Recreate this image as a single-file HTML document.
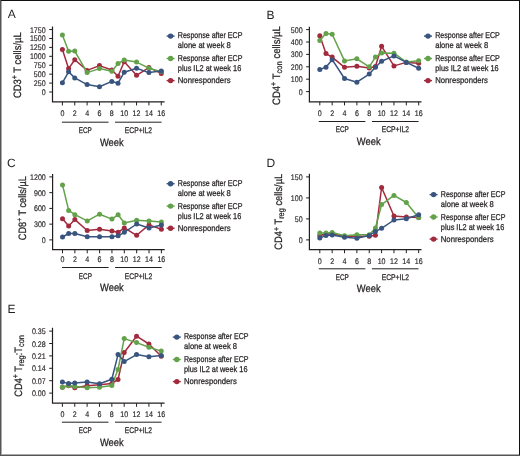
<!DOCTYPE html>
<html><head><meta charset="utf-8"><style>
html,body{margin:0;padding:0;background:#fff;}
body{width:520px;height:456px;overflow:hidden;position:relative;}
svg{position:absolute;left:0;top:0;will-change:transform;}
text{stroke:#231f20;stroke-width:0.25px;text-rendering:geometricPrecision;}
text.n{stroke-width:0.15px;}
text.L{stroke-width:0;}
</style></head><body>
<svg width="520" height="456" viewBox="0 0 520 456" font-family="Liberation Sans, sans-serif">
<rect x="0" y="0" width="520" height="456" fill="#fff"/>
<text x="7.7" y="18.3" class="L" font-size="12" fill="#231f20">A</text>
<path d="M52.5 26.6V101.85H164.6" fill="none" stroke="#231f20" stroke-width="1.2"/>
<path d="M49.2 92H52.5M49.2 83.08H52.5M49.2 74.16H52.5M49.2 65.24H52.5M49.2 56.32H52.5M49.2 47.4H52.5M49.2 38.48H52.5M49.2 29.56H52.5M62.4 101.85V105.45M74.76 101.85V105.45M87.12 101.85V105.45M99.48 101.85V105.45M111.84 101.85V105.45M124.2 101.85V105.45M136.56 101.85V105.45M148.92 101.85V105.45M161.28 101.85V105.45" stroke="#231f20" stroke-width="1"/>
<text x="45.7" y="95" class="n" font-size="8.1" textLength="3.95" lengthAdjust="spacingAndGlyphs" text-anchor="end" fill="#231f20">0</text>
<text x="45.7" y="86.08" class="n" font-size="8.1" textLength="11.85" lengthAdjust="spacingAndGlyphs" text-anchor="end" fill="#231f20">250</text>
<text x="45.7" y="77.16" class="n" font-size="8.1" textLength="11.85" lengthAdjust="spacingAndGlyphs" text-anchor="end" fill="#231f20">500</text>
<text x="45.7" y="68.24" class="n" font-size="8.1" textLength="11.85" lengthAdjust="spacingAndGlyphs" text-anchor="end" fill="#231f20">750</text>
<text x="45.7" y="59.32" class="n" font-size="8.1" textLength="15.79" lengthAdjust="spacingAndGlyphs" text-anchor="end" fill="#231f20">1000</text>
<text x="45.7" y="50.4" class="n" font-size="8.1" textLength="15.79" lengthAdjust="spacingAndGlyphs" text-anchor="end" fill="#231f20">1250</text>
<text x="45.7" y="41.48" class="n" font-size="8.1" textLength="15.79" lengthAdjust="spacingAndGlyphs" text-anchor="end" fill="#231f20">1500</text>
<text x="45.7" y="32.56" class="n" font-size="8.1" textLength="15.79" lengthAdjust="spacingAndGlyphs" text-anchor="end" fill="#231f20">1750</text>
<text x="62.4" y="116.2" class="n" font-size="8.1" textLength="3.95" lengthAdjust="spacingAndGlyphs" text-anchor="middle" fill="#231f20">0</text>
<text x="74.76" y="116.2" class="n" font-size="8.1" textLength="3.95" lengthAdjust="spacingAndGlyphs" text-anchor="middle" fill="#231f20">2</text>
<text x="87.12" y="116.2" class="n" font-size="8.1" textLength="3.95" lengthAdjust="spacingAndGlyphs" text-anchor="middle" fill="#231f20">4</text>
<text x="99.48" y="116.2" class="n" font-size="8.1" textLength="3.95" lengthAdjust="spacingAndGlyphs" text-anchor="middle" fill="#231f20">6</text>
<text x="111.84" y="116.2" class="n" font-size="8.1" textLength="3.95" lengthAdjust="spacingAndGlyphs" text-anchor="middle" fill="#231f20">8</text>
<text x="124.2" y="116.2" class="n" font-size="8.1" textLength="7.9" lengthAdjust="spacingAndGlyphs" text-anchor="middle" fill="#231f20">10</text>
<text x="136.56" y="116.2" class="n" font-size="8.1" textLength="7.9" lengthAdjust="spacingAndGlyphs" text-anchor="middle" fill="#231f20">12</text>
<text x="148.92" y="116.2" class="n" font-size="8.1" textLength="7.9" lengthAdjust="spacingAndGlyphs" text-anchor="middle" fill="#231f20">14</text>
<text x="161.28" y="116.2" class="n" font-size="8.1" textLength="7.9" lengthAdjust="spacingAndGlyphs" text-anchor="middle" fill="#231f20">16</text>
<path d="M61.9 122.2H108.5M115 122.2H161.6" stroke="#231f20" stroke-width="1"/>
<text x="85.3" y="132.8" font-size="8.2" text-anchor="middle" textLength="13.1" lengthAdjust="spacingAndGlyphs" fill="#231f20">ECP</text>
<text x="138.4" y="132.8" font-size="8.2" text-anchor="middle" textLength="27.3" lengthAdjust="spacingAndGlyphs" fill="#231f20">ECP+IL2</text>
<text x="111.8" y="145.7" font-size="10.7" text-anchor="middle" textLength="23.8" lengthAdjust="spacingAndGlyphs" fill="#231f20">Week</text>
<text transform="translate(21 98.1) rotate(-90)" x="0" y="0" font-size="10.7" textLength="65.8" lengthAdjust="spacingAndGlyphs" fill="#231f20"><tspan font-size="10.7" dy="0">CD3</tspan><tspan font-size="8" dy="-3.6">+</tspan><tspan font-size="10.7" dy="3.6"> T cells/µL</tspan></text>
<polyline points="62.4,49.5 68.58,68.6 74.76,59.8 87.12,70.4 99.48,65.6 111.84,70 118.02,76.3 124.2,61.8 136.56,75.3 148.92,67.6 161.28,73.4" fill="none" stroke="#a12a3d" stroke-width="1.5" stroke-linejoin="round"/>
<circle cx="62.4" cy="49.5" r="2.5" fill="#a12a3d"/><circle cx="68.58" cy="68.6" r="2.5" fill="#a12a3d"/><circle cx="74.76" cy="59.8" r="2.5" fill="#a12a3d"/><circle cx="87.12" cy="70.4" r="2.5" fill="#a12a3d"/><circle cx="99.48" cy="65.6" r="2.5" fill="#a12a3d"/><circle cx="111.84" cy="70" r="2.5" fill="#a12a3d"/><circle cx="118.02" cy="76.3" r="2.5" fill="#a12a3d"/><circle cx="124.2" cy="61.8" r="2.5" fill="#a12a3d"/><circle cx="136.56" cy="75.3" r="2.5" fill="#a12a3d"/><circle cx="148.92" cy="67.6" r="2.5" fill="#a12a3d"/><circle cx="161.28" cy="73.4" r="2.5" fill="#a12a3d"/>
<polyline points="62.4,35 68.58,51.2 74.76,51.1 87.12,72.6 99.48,68.6 111.84,71.2 118.02,63.6 124.2,60 136.56,62.1 148.92,68.2 161.28,71.6" fill="none" stroke="#63a24a" stroke-width="1.5" stroke-linejoin="round"/>
<circle cx="62.4" cy="35" r="2.5" fill="#63a24a"/><circle cx="68.58" cy="51.2" r="2.5" fill="#63a24a"/><circle cx="74.76" cy="51.1" r="2.5" fill="#63a24a"/><circle cx="87.12" cy="72.6" r="2.5" fill="#63a24a"/><circle cx="99.48" cy="68.6" r="2.5" fill="#63a24a"/><circle cx="111.84" cy="71.2" r="2.5" fill="#63a24a"/><circle cx="118.02" cy="63.6" r="2.5" fill="#63a24a"/><circle cx="124.2" cy="60" r="2.5" fill="#63a24a"/><circle cx="136.56" cy="62.1" r="2.5" fill="#63a24a"/><circle cx="148.92" cy="68.2" r="2.5" fill="#63a24a"/><circle cx="161.28" cy="71.6" r="2.5" fill="#63a24a"/>
<polyline points="62.4,82.8 68.58,71.8 74.76,77.9 87.12,84.6 99.48,86.7 111.84,81.4 118.02,83.2 124.2,72.3 136.56,68.2 148.92,72.6 161.28,70.9" fill="none" stroke="#38547f" stroke-width="1.5" stroke-linejoin="round"/>
<circle cx="62.4" cy="82.8" r="2.5" fill="#38547f"/><circle cx="68.58" cy="71.8" r="2.5" fill="#38547f"/><circle cx="74.76" cy="77.9" r="2.5" fill="#38547f"/><circle cx="87.12" cy="84.6" r="2.5" fill="#38547f"/><circle cx="99.48" cy="86.7" r="2.5" fill="#38547f"/><circle cx="111.84" cy="81.4" r="2.5" fill="#38547f"/><circle cx="118.02" cy="83.2" r="2.5" fill="#38547f"/><circle cx="124.2" cy="72.3" r="2.5" fill="#38547f"/><circle cx="136.56" cy="68.2" r="2.5" fill="#38547f"/><circle cx="148.92" cy="72.6" r="2.5" fill="#38547f"/><circle cx="161.28" cy="70.9" r="2.5" fill="#38547f"/>
<path d="M166.6 36.1H174.6" stroke="#38547f" stroke-width="1.4"/><circle cx="170.6" cy="36.1" r="2.7" fill="#38547f"/>
<text x="177.8" y="38.3" font-size="8.5" textLength="64.6" lengthAdjust="spacingAndGlyphs" fill="#231f20">Response after ECP</text>
<text x="177.8" y="48.2" font-size="8.5" textLength="53" lengthAdjust="spacingAndGlyphs" fill="#231f20">alone at week 8</text>
<path d="M166.6 58.5H174.6" stroke="#63a24a" stroke-width="1.4"/><circle cx="170.6" cy="58.5" r="2.7" fill="#63a24a"/>
<text x="177.8" y="61.3" font-size="8.5" textLength="64.6" lengthAdjust="spacingAndGlyphs" fill="#231f20">Response after ECP</text>
<text x="177.8" y="71" font-size="8.5" textLength="63.5" lengthAdjust="spacingAndGlyphs" fill="#231f20">plus IL2 at week 16</text>
<path d="M166.6 80.6H174.6" stroke="#a12a3d" stroke-width="1.4"/><circle cx="170.6" cy="80.6" r="2.7" fill="#a12a3d"/>
<text x="177.8" y="83.3" font-size="8.5" textLength="52.8" lengthAdjust="spacingAndGlyphs" fill="#231f20">Nonresponders</text>
<text x="266.4" y="18.7" class="L" font-size="12" fill="#231f20">B</text>
<path d="M309.4 26.7V101.8H421.5" fill="none" stroke="#231f20" stroke-width="1.2"/>
<path d="M306.1 91.6H309.4M306.1 79.2H309.4M306.1 66.8H309.4M306.1 54.4H309.4M306.1 42H309.4M306.1 29.6H309.4M319.8 101.8V105.4M332.16 101.8V105.4M344.52 101.8V105.4M356.88 101.8V105.4M369.24 101.8V105.4M381.6 101.8V105.4M393.96 101.8V105.4M406.32 101.8V105.4M418.68 101.8V105.4" stroke="#231f20" stroke-width="1"/>
<text x="302.6" y="94.6" class="n" font-size="8.1" textLength="3.95" lengthAdjust="spacingAndGlyphs" text-anchor="end" fill="#231f20">0</text>
<text x="302.6" y="82.2" class="n" font-size="8.1" textLength="11.85" lengthAdjust="spacingAndGlyphs" text-anchor="end" fill="#231f20">100</text>
<text x="302.6" y="69.8" class="n" font-size="8.1" textLength="11.85" lengthAdjust="spacingAndGlyphs" text-anchor="end" fill="#231f20">200</text>
<text x="302.6" y="57.4" class="n" font-size="8.1" textLength="11.85" lengthAdjust="spacingAndGlyphs" text-anchor="end" fill="#231f20">300</text>
<text x="302.6" y="45" class="n" font-size="8.1" textLength="11.85" lengthAdjust="spacingAndGlyphs" text-anchor="end" fill="#231f20">400</text>
<text x="302.6" y="32.6" class="n" font-size="8.1" textLength="11.85" lengthAdjust="spacingAndGlyphs" text-anchor="end" fill="#231f20">500</text>
<text x="319.8" y="115.7" class="n" font-size="8.1" textLength="3.95" lengthAdjust="spacingAndGlyphs" text-anchor="middle" fill="#231f20">0</text>
<text x="332.16" y="115.7" class="n" font-size="8.1" textLength="3.95" lengthAdjust="spacingAndGlyphs" text-anchor="middle" fill="#231f20">2</text>
<text x="344.52" y="115.7" class="n" font-size="8.1" textLength="3.95" lengthAdjust="spacingAndGlyphs" text-anchor="middle" fill="#231f20">4</text>
<text x="356.88" y="115.7" class="n" font-size="8.1" textLength="3.95" lengthAdjust="spacingAndGlyphs" text-anchor="middle" fill="#231f20">6</text>
<text x="369.24" y="115.7" class="n" font-size="8.1" textLength="3.95" lengthAdjust="spacingAndGlyphs" text-anchor="middle" fill="#231f20">8</text>
<text x="381.6" y="115.7" class="n" font-size="8.1" textLength="7.9" lengthAdjust="spacingAndGlyphs" text-anchor="middle" fill="#231f20">10</text>
<text x="393.96" y="115.7" class="n" font-size="8.1" textLength="7.9" lengthAdjust="spacingAndGlyphs" text-anchor="middle" fill="#231f20">12</text>
<text x="406.32" y="115.7" class="n" font-size="8.1" textLength="7.9" lengthAdjust="spacingAndGlyphs" text-anchor="middle" fill="#231f20">14</text>
<text x="418.68" y="115.7" class="n" font-size="8.1" textLength="7.9" lengthAdjust="spacingAndGlyphs" text-anchor="middle" fill="#231f20">16</text>
<path d="M318.8 121.5H365.4M371.9 121.5H418.5" stroke="#231f20" stroke-width="1"/>
<text x="342.2" y="132.1" font-size="8.2" text-anchor="middle" textLength="13.1" lengthAdjust="spacingAndGlyphs" fill="#231f20">ECP</text>
<text x="395.3" y="132.1" font-size="8.2" text-anchor="middle" textLength="27.3" lengthAdjust="spacingAndGlyphs" fill="#231f20">ECP+IL2</text>
<text x="368.7" y="144.6" font-size="10.7" text-anchor="middle" textLength="23.8" lengthAdjust="spacingAndGlyphs" fill="#231f20">Week</text>
<text transform="translate(279.8 104.9) rotate(-90)" x="0" y="0" font-size="10.7" textLength="78.7" lengthAdjust="spacingAndGlyphs" fill="#231f20"><tspan font-size="10.7" dy="0">CD4</tspan><tspan font-size="8" dy="-3.6">+</tspan><tspan font-size="10.7" dy="3.6"> T</tspan><tspan font-size="8.5" dy="2.2">con</tspan><tspan font-size="10.7" dy="-2.2"> cells/µL</tspan></text>
<polyline points="319.8,35.7 325.98,53.6 332.16,57.1 344.52,67.3 356.88,66.2 369.24,68 375.42,66.5 381.6,46.3 393.96,65.9 406.32,62.4 418.68,63.2" fill="none" stroke="#a12a3d" stroke-width="1.5" stroke-linejoin="round"/>
<circle cx="319.8" cy="35.7" r="2.5" fill="#a12a3d"/><circle cx="325.98" cy="53.6" r="2.5" fill="#a12a3d"/><circle cx="332.16" cy="57.1" r="2.5" fill="#a12a3d"/><circle cx="344.52" cy="67.3" r="2.5" fill="#a12a3d"/><circle cx="356.88" cy="66.2" r="2.5" fill="#a12a3d"/><circle cx="369.24" cy="68" r="2.5" fill="#a12a3d"/><circle cx="375.42" cy="66.5" r="2.5" fill="#a12a3d"/><circle cx="381.6" cy="46.3" r="2.5" fill="#a12a3d"/><circle cx="393.96" cy="65.9" r="2.5" fill="#a12a3d"/><circle cx="406.32" cy="62.4" r="2.5" fill="#a12a3d"/><circle cx="418.68" cy="63.2" r="2.5" fill="#a12a3d"/>
<polyline points="319.8,40.4 325.98,33.4 332.16,34.3 344.52,60.9 356.88,58.8 369.24,66.8 375.42,57.1 381.6,53.1 393.96,53.2 406.32,62 418.68,60.7" fill="none" stroke="#63a24a" stroke-width="1.5" stroke-linejoin="round"/>
<circle cx="319.8" cy="40.4" r="2.5" fill="#63a24a"/><circle cx="325.98" cy="33.4" r="2.5" fill="#63a24a"/><circle cx="332.16" cy="34.3" r="2.5" fill="#63a24a"/><circle cx="344.52" cy="60.9" r="2.5" fill="#63a24a"/><circle cx="356.88" cy="58.8" r="2.5" fill="#63a24a"/><circle cx="369.24" cy="66.8" r="2.5" fill="#63a24a"/><circle cx="375.42" cy="57.1" r="2.5" fill="#63a24a"/><circle cx="381.6" cy="53.1" r="2.5" fill="#63a24a"/><circle cx="393.96" cy="53.2" r="2.5" fill="#63a24a"/><circle cx="406.32" cy="62" r="2.5" fill="#63a24a"/><circle cx="418.68" cy="60.7" r="2.5" fill="#63a24a"/>
<polyline points="319.8,69.4 325.98,67.3 332.16,59.7 344.52,78.5 356.88,82.2 369.24,74.1 375.42,67.2 381.6,61.3 393.96,55.9 406.32,62.4 418.68,68.2" fill="none" stroke="#38547f" stroke-width="1.5" stroke-linejoin="round"/>
<circle cx="319.8" cy="69.4" r="2.5" fill="#38547f"/><circle cx="325.98" cy="67.3" r="2.5" fill="#38547f"/><circle cx="332.16" cy="59.7" r="2.5" fill="#38547f"/><circle cx="344.52" cy="78.5" r="2.5" fill="#38547f"/><circle cx="356.88" cy="82.2" r="2.5" fill="#38547f"/><circle cx="369.24" cy="74.1" r="2.5" fill="#38547f"/><circle cx="375.42" cy="67.2" r="2.5" fill="#38547f"/><circle cx="381.6" cy="61.3" r="2.5" fill="#38547f"/><circle cx="393.96" cy="55.9" r="2.5" fill="#38547f"/><circle cx="406.32" cy="62.4" r="2.5" fill="#38547f"/><circle cx="418.68" cy="68.2" r="2.5" fill="#38547f"/>
<path d="M424 36.1H432" stroke="#38547f" stroke-width="1.4"/><circle cx="428" cy="36.1" r="2.7" fill="#38547f"/>
<text x="435.2" y="38.3" font-size="8.5" textLength="64.6" lengthAdjust="spacingAndGlyphs" fill="#231f20">Response after ECP</text>
<text x="435.2" y="48.2" font-size="8.5" textLength="53" lengthAdjust="spacingAndGlyphs" fill="#231f20">alone at week 8</text>
<path d="M424 58.5H432" stroke="#63a24a" stroke-width="1.4"/><circle cx="428" cy="58.5" r="2.7" fill="#63a24a"/>
<text x="435.2" y="61.3" font-size="8.5" textLength="64.6" lengthAdjust="spacingAndGlyphs" fill="#231f20">Response after ECP</text>
<text x="435.2" y="71" font-size="8.5" textLength="63.5" lengthAdjust="spacingAndGlyphs" fill="#231f20">plus IL2 at week 16</text>
<path d="M424 80.6H432" stroke="#a12a3d" stroke-width="1.4"/><circle cx="428" cy="80.6" r="2.7" fill="#a12a3d"/>
<text x="435.2" y="83.3" font-size="8.5" textLength="52.8" lengthAdjust="spacingAndGlyphs" fill="#231f20">Nonresponders</text>
<text x="7.1" y="166.9" class="L" font-size="12" fill="#231f20">C</text>
<path d="M52.6 173.9V249.7H164.7" fill="none" stroke="#231f20" stroke-width="1.2"/>
<path d="M49.3 239.9H52.6M49.3 224.15H52.6M49.3 208.4H52.6M49.3 192.65H52.6M49.3 176.9H52.6M62.5 249.7V253.3M74.86 249.7V253.3M87.22 249.7V253.3M99.58 249.7V253.3M111.94 249.7V253.3M124.3 249.7V253.3M136.66 249.7V253.3M149.02 249.7V253.3M161.38 249.7V253.3" stroke="#231f20" stroke-width="1"/>
<text x="45.8" y="242.9" class="n" font-size="8.1" textLength="3.95" lengthAdjust="spacingAndGlyphs" text-anchor="end" fill="#231f20">0</text>
<text x="45.8" y="227.15" class="n" font-size="8.1" textLength="11.85" lengthAdjust="spacingAndGlyphs" text-anchor="end" fill="#231f20">300</text>
<text x="45.8" y="211.4" class="n" font-size="8.1" textLength="11.85" lengthAdjust="spacingAndGlyphs" text-anchor="end" fill="#231f20">600</text>
<text x="45.8" y="195.65" class="n" font-size="8.1" textLength="11.85" lengthAdjust="spacingAndGlyphs" text-anchor="end" fill="#231f20">900</text>
<text x="45.8" y="179.9" class="n" font-size="8.1" textLength="15.79" lengthAdjust="spacingAndGlyphs" text-anchor="end" fill="#231f20">1200</text>
<text x="62.5" y="262.3" class="n" font-size="8.1" textLength="3.95" lengthAdjust="spacingAndGlyphs" text-anchor="middle" fill="#231f20">0</text>
<text x="74.86" y="262.3" class="n" font-size="8.1" textLength="3.95" lengthAdjust="spacingAndGlyphs" text-anchor="middle" fill="#231f20">2</text>
<text x="87.22" y="262.3" class="n" font-size="8.1" textLength="3.95" lengthAdjust="spacingAndGlyphs" text-anchor="middle" fill="#231f20">4</text>
<text x="99.58" y="262.3" class="n" font-size="8.1" textLength="3.95" lengthAdjust="spacingAndGlyphs" text-anchor="middle" fill="#231f20">6</text>
<text x="111.94" y="262.3" class="n" font-size="8.1" textLength="3.95" lengthAdjust="spacingAndGlyphs" text-anchor="middle" fill="#231f20">8</text>
<text x="124.3" y="262.3" class="n" font-size="8.1" textLength="7.9" lengthAdjust="spacingAndGlyphs" text-anchor="middle" fill="#231f20">10</text>
<text x="136.66" y="262.3" class="n" font-size="8.1" textLength="7.9" lengthAdjust="spacingAndGlyphs" text-anchor="middle" fill="#231f20">12</text>
<text x="149.02" y="262.3" class="n" font-size="8.1" textLength="7.9" lengthAdjust="spacingAndGlyphs" text-anchor="middle" fill="#231f20">14</text>
<text x="161.38" y="262.3" class="n" font-size="8.1" textLength="7.9" lengthAdjust="spacingAndGlyphs" text-anchor="middle" fill="#231f20">16</text>
<path d="M62 267.5H108.6M115.1 267.5H161.7" stroke="#231f20" stroke-width="1"/>
<text x="85.4" y="278.8" font-size="8.2" text-anchor="middle" textLength="13.1" lengthAdjust="spacingAndGlyphs" fill="#231f20">ECP</text>
<text x="138.5" y="278.8" font-size="8.2" text-anchor="middle" textLength="27.3" lengthAdjust="spacingAndGlyphs" fill="#231f20">ECP+IL2</text>
<text x="111.9" y="290.8" font-size="10.7" text-anchor="middle" textLength="23.8" lengthAdjust="spacingAndGlyphs" fill="#231f20">Week</text>
<text transform="translate(26 240.2) rotate(-90)" x="0" y="0" font-size="10.7" textLength="64" lengthAdjust="spacingAndGlyphs" fill="#231f20"><tspan font-size="10.7" dy="0">CD8</tspan><tspan font-size="8" dy="-3.6">+</tspan><tspan font-size="10.7" dy="3.6"> T cells/µL</tspan></text>
<polyline points="62.5,218.8 68.68,226.1 74.86,219.6 87.22,230.5 99.58,229.3 111.94,231.1 118.12,232.3 124.3,227.9 136.66,235.3 149.02,224.9 161.38,229.3" fill="none" stroke="#a12a3d" stroke-width="1.5" stroke-linejoin="round"/>
<circle cx="62.5" cy="218.8" r="2.5" fill="#a12a3d"/><circle cx="68.68" cy="226.1" r="2.5" fill="#a12a3d"/><circle cx="74.86" cy="219.6" r="2.5" fill="#a12a3d"/><circle cx="87.22" cy="230.5" r="2.5" fill="#a12a3d"/><circle cx="99.58" cy="229.3" r="2.5" fill="#a12a3d"/><circle cx="111.94" cy="231.1" r="2.5" fill="#a12a3d"/><circle cx="118.12" cy="232.3" r="2.5" fill="#a12a3d"/><circle cx="124.3" cy="227.9" r="2.5" fill="#a12a3d"/><circle cx="136.66" cy="235.3" r="2.5" fill="#a12a3d"/><circle cx="149.02" cy="224.9" r="2.5" fill="#a12a3d"/><circle cx="161.38" cy="229.3" r="2.5" fill="#a12a3d"/>
<polyline points="62.5,184.9 68.68,210.4 74.86,214.7 87.22,220.9 99.58,214.2 111.94,219.1 118.12,214.7 124.3,223 136.66,220.3 149.02,221.1 161.38,222" fill="none" stroke="#63a24a" stroke-width="1.5" stroke-linejoin="round"/>
<circle cx="62.5" cy="184.9" r="2.5" fill="#63a24a"/><circle cx="68.68" cy="210.4" r="2.5" fill="#63a24a"/><circle cx="74.86" cy="214.7" r="2.5" fill="#63a24a"/><circle cx="87.22" cy="220.9" r="2.5" fill="#63a24a"/><circle cx="99.58" cy="214.2" r="2.5" fill="#63a24a"/><circle cx="111.94" cy="219.1" r="2.5" fill="#63a24a"/><circle cx="118.12" cy="214.7" r="2.5" fill="#63a24a"/><circle cx="124.3" cy="223" r="2.5" fill="#63a24a"/><circle cx="136.66" cy="220.3" r="2.5" fill="#63a24a"/><circle cx="149.02" cy="221.1" r="2.5" fill="#63a24a"/><circle cx="161.38" cy="222" r="2.5" fill="#63a24a"/>
<polyline points="62.5,237 68.68,233.5 74.86,233.5 87.22,236.7 99.58,236.7 111.94,236.7 118.12,235.8 124.3,232.3 136.66,224 149.02,228 161.38,225.1" fill="none" stroke="#38547f" stroke-width="1.5" stroke-linejoin="round"/>
<circle cx="62.5" cy="237" r="2.5" fill="#38547f"/><circle cx="68.68" cy="233.5" r="2.5" fill="#38547f"/><circle cx="74.86" cy="233.5" r="2.5" fill="#38547f"/><circle cx="87.22" cy="236.7" r="2.5" fill="#38547f"/><circle cx="99.58" cy="236.7" r="2.5" fill="#38547f"/><circle cx="111.94" cy="236.7" r="2.5" fill="#38547f"/><circle cx="118.12" cy="235.8" r="2.5" fill="#38547f"/><circle cx="124.3" cy="232.3" r="2.5" fill="#38547f"/><circle cx="136.66" cy="224" r="2.5" fill="#38547f"/><circle cx="149.02" cy="228" r="2.5" fill="#38547f"/><circle cx="161.38" cy="225.1" r="2.5" fill="#38547f"/>
<path d="M166.6 183.7H174.6" stroke="#38547f" stroke-width="1.4"/><circle cx="170.6" cy="183.7" r="2.7" fill="#38547f"/>
<text x="177.8" y="185.9" font-size="8.5" textLength="64.6" lengthAdjust="spacingAndGlyphs" fill="#231f20">Response after ECP</text>
<text x="177.8" y="195.8" font-size="8.5" textLength="53" lengthAdjust="spacingAndGlyphs" fill="#231f20">alone at week 8</text>
<path d="M166.6 206.1H174.6" stroke="#63a24a" stroke-width="1.4"/><circle cx="170.6" cy="206.1" r="2.7" fill="#63a24a"/>
<text x="177.8" y="208.9" font-size="8.5" textLength="64.6" lengthAdjust="spacingAndGlyphs" fill="#231f20">Response after ECP</text>
<text x="177.8" y="218.6" font-size="8.5" textLength="63.5" lengthAdjust="spacingAndGlyphs" fill="#231f20">plus IL2 at week 16</text>
<path d="M166.6 228.2H174.6" stroke="#a12a3d" stroke-width="1.4"/><circle cx="170.6" cy="228.2" r="2.7" fill="#a12a3d"/>
<text x="177.8" y="230.9" font-size="8.5" textLength="52.8" lengthAdjust="spacingAndGlyphs" fill="#231f20">Nonresponders</text>
<text x="266.4" y="166.6" class="L" font-size="12" fill="#231f20">D</text>
<path d="M309.4 173.7V249.6H421.5" fill="none" stroke="#231f20" stroke-width="1.2"/>
<path d="M306.1 239.9H309.4M306.1 218.9H309.4M306.1 197.9H309.4M306.1 176.9H309.4M319.8 249.6V253.2M332.16 249.6V253.2M344.52 249.6V253.2M356.88 249.6V253.2M369.24 249.6V253.2M381.6 249.6V253.2M393.96 249.6V253.2M406.32 249.6V253.2M418.68 249.6V253.2" stroke="#231f20" stroke-width="1"/>
<text x="302.6" y="242.9" class="n" font-size="8.1" textLength="3.95" lengthAdjust="spacingAndGlyphs" text-anchor="end" fill="#231f20">0</text>
<text x="302.6" y="221.9" class="n" font-size="8.1" textLength="7.9" lengthAdjust="spacingAndGlyphs" text-anchor="end" fill="#231f20">50</text>
<text x="302.6" y="200.9" class="n" font-size="8.1" textLength="11.85" lengthAdjust="spacingAndGlyphs" text-anchor="end" fill="#231f20">100</text>
<text x="302.6" y="179.9" class="n" font-size="8.1" textLength="11.85" lengthAdjust="spacingAndGlyphs" text-anchor="end" fill="#231f20">150</text>
<text x="319.8" y="264.2" class="n" font-size="8.1" textLength="3.95" lengthAdjust="spacingAndGlyphs" text-anchor="middle" fill="#231f20">0</text>
<text x="332.16" y="264.2" class="n" font-size="8.1" textLength="3.95" lengthAdjust="spacingAndGlyphs" text-anchor="middle" fill="#231f20">2</text>
<text x="344.52" y="264.2" class="n" font-size="8.1" textLength="3.95" lengthAdjust="spacingAndGlyphs" text-anchor="middle" fill="#231f20">4</text>
<text x="356.88" y="264.2" class="n" font-size="8.1" textLength="3.95" lengthAdjust="spacingAndGlyphs" text-anchor="middle" fill="#231f20">6</text>
<text x="369.24" y="264.2" class="n" font-size="8.1" textLength="3.95" lengthAdjust="spacingAndGlyphs" text-anchor="middle" fill="#231f20">8</text>
<text x="381.6" y="264.2" class="n" font-size="8.1" textLength="7.9" lengthAdjust="spacingAndGlyphs" text-anchor="middle" fill="#231f20">10</text>
<text x="393.96" y="264.2" class="n" font-size="8.1" textLength="7.9" lengthAdjust="spacingAndGlyphs" text-anchor="middle" fill="#231f20">12</text>
<text x="406.32" y="264.2" class="n" font-size="8.1" textLength="7.9" lengthAdjust="spacingAndGlyphs" text-anchor="middle" fill="#231f20">14</text>
<text x="418.68" y="264.2" class="n" font-size="8.1" textLength="7.9" lengthAdjust="spacingAndGlyphs" text-anchor="middle" fill="#231f20">16</text>
<path d="M318.8 268.8H365.4M371.9 268.8H418.5" stroke="#231f20" stroke-width="1"/>
<text x="342.2" y="279.9" font-size="8.2" text-anchor="middle" textLength="13.1" lengthAdjust="spacingAndGlyphs" fill="#231f20">ECP</text>
<text x="395.3" y="279.9" font-size="8.2" text-anchor="middle" textLength="27.3" lengthAdjust="spacingAndGlyphs" fill="#231f20">ECP+IL2</text>
<text x="368.7" y="291.8" font-size="10.7" text-anchor="middle" textLength="23.8" lengthAdjust="spacingAndGlyphs" fill="#231f20">Week</text>
<text transform="translate(282.1 249.7) rotate(-90)" x="0" y="0" font-size="10.7" textLength="75.9" lengthAdjust="spacingAndGlyphs" fill="#231f20"><tspan font-size="10.7" dy="0">CD4</tspan><tspan font-size="8" dy="-3.6">+</tspan><tspan font-size="10.7" dy="3.6"> T</tspan><tspan font-size="8.5" dy="2.2">reg</tspan><tspan font-size="10.7" dy="-2.2"> cells/µL</tspan></text>
<polyline points="319.8,235.4 325.98,234 332.16,233.7 344.52,236.2 356.88,236.2 369.24,236.3 375.42,235.3 381.6,187.5 393.96,216 406.32,217 418.68,217.4" fill="none" stroke="#a12a3d" stroke-width="1.5" stroke-linejoin="round"/>
<circle cx="319.8" cy="235.4" r="2.5" fill="#a12a3d"/><circle cx="325.98" cy="234" r="2.5" fill="#a12a3d"/><circle cx="332.16" cy="233.7" r="2.5" fill="#a12a3d"/><circle cx="344.52" cy="236.2" r="2.5" fill="#a12a3d"/><circle cx="356.88" cy="236.2" r="2.5" fill="#a12a3d"/><circle cx="369.24" cy="236.3" r="2.5" fill="#a12a3d"/><circle cx="375.42" cy="235.3" r="2.5" fill="#a12a3d"/><circle cx="381.6" cy="187.5" r="2.5" fill="#a12a3d"/><circle cx="393.96" cy="216" r="2.5" fill="#a12a3d"/><circle cx="406.32" cy="217" r="2.5" fill="#a12a3d"/><circle cx="418.68" cy="217.4" r="2.5" fill="#a12a3d"/>
<polyline points="319.8,232.9 325.98,232.9 332.16,232.5 344.52,235.7 356.88,234.7 369.24,234.8 375.42,227.9 381.6,204.6 393.96,195.4 406.32,202.5 418.68,217.7" fill="none" stroke="#63a24a" stroke-width="1.5" stroke-linejoin="round"/>
<circle cx="319.8" cy="232.9" r="2.5" fill="#63a24a"/><circle cx="325.98" cy="232.9" r="2.5" fill="#63a24a"/><circle cx="332.16" cy="232.5" r="2.5" fill="#63a24a"/><circle cx="344.52" cy="235.7" r="2.5" fill="#63a24a"/><circle cx="356.88" cy="234.7" r="2.5" fill="#63a24a"/><circle cx="369.24" cy="234.8" r="2.5" fill="#63a24a"/><circle cx="375.42" cy="227.9" r="2.5" fill="#63a24a"/><circle cx="381.6" cy="204.6" r="2.5" fill="#63a24a"/><circle cx="393.96" cy="195.4" r="2.5" fill="#63a24a"/><circle cx="406.32" cy="202.5" r="2.5" fill="#63a24a"/><circle cx="418.68" cy="217.7" r="2.5" fill="#63a24a"/>
<polyline points="319.8,238.1 325.98,235.4 332.16,235 344.52,237.3 356.88,238.3 369.24,235.5 375.42,231.4 381.6,228.3 393.96,220 406.32,218.8 418.68,214.7" fill="none" stroke="#38547f" stroke-width="1.5" stroke-linejoin="round"/>
<circle cx="319.8" cy="238.1" r="2.5" fill="#38547f"/><circle cx="325.98" cy="235.4" r="2.5" fill="#38547f"/><circle cx="332.16" cy="235" r="2.5" fill="#38547f"/><circle cx="344.52" cy="237.3" r="2.5" fill="#38547f"/><circle cx="356.88" cy="238.3" r="2.5" fill="#38547f"/><circle cx="369.24" cy="235.5" r="2.5" fill="#38547f"/><circle cx="375.42" cy="231.4" r="2.5" fill="#38547f"/><circle cx="381.6" cy="228.3" r="2.5" fill="#38547f"/><circle cx="393.96" cy="220" r="2.5" fill="#38547f"/><circle cx="406.32" cy="218.8" r="2.5" fill="#38547f"/><circle cx="418.68" cy="214.7" r="2.5" fill="#38547f"/>
<path d="M429.6 194.6H437.6" stroke="#38547f" stroke-width="1.4"/><circle cx="433.6" cy="194.6" r="2.7" fill="#38547f"/>
<text x="440.8" y="196.8" font-size="8.5" textLength="64.6" lengthAdjust="spacingAndGlyphs" fill="#231f20">Response after ECP</text>
<text x="440.8" y="206.7" font-size="8.5" textLength="53" lengthAdjust="spacingAndGlyphs" fill="#231f20">alone at week 8</text>
<path d="M429.6 217H437.6" stroke="#63a24a" stroke-width="1.4"/><circle cx="433.6" cy="217" r="2.7" fill="#63a24a"/>
<text x="440.8" y="219.8" font-size="8.5" textLength="64.6" lengthAdjust="spacingAndGlyphs" fill="#231f20">Response after ECP</text>
<text x="440.8" y="229.5" font-size="8.5" textLength="63.5" lengthAdjust="spacingAndGlyphs" fill="#231f20">plus IL2 at week 16</text>
<path d="M429.6 239.1H437.6" stroke="#a12a3d" stroke-width="1.4"/><circle cx="433.6" cy="239.1" r="2.7" fill="#a12a3d"/>
<text x="440.8" y="241.8" font-size="8.5" textLength="52.8" lengthAdjust="spacingAndGlyphs" fill="#231f20">Nonresponders</text>
<text x="7.5" y="313.4" class="L" font-size="12" fill="#231f20">E</text>
<path d="M52.5 327.7V403.2H164.6" fill="none" stroke="#231f20" stroke-width="1.2"/>
<path d="M49.2 393.1H52.5M49.2 380.7H52.5M49.2 368.3H52.5M49.2 355.9H52.5M49.2 343.5H52.5M49.2 331.1H52.5M62.4 403.2V406.8M74.76 403.2V406.8M87.12 403.2V406.8M99.48 403.2V406.8M111.84 403.2V406.8M124.2 403.2V406.8M136.56 403.2V406.8M148.92 403.2V406.8M161.28 403.2V406.8" stroke="#231f20" stroke-width="1"/>
<text x="45.7" y="396.1" class="n" font-size="8.1" textLength="13.82" lengthAdjust="spacingAndGlyphs" text-anchor="end" fill="#231f20">0.00</text>
<text x="45.7" y="383.7" class="n" font-size="8.1" textLength="13.82" lengthAdjust="spacingAndGlyphs" text-anchor="end" fill="#231f20">0.07</text>
<text x="45.7" y="371.3" class="n" font-size="8.1" textLength="13.82" lengthAdjust="spacingAndGlyphs" text-anchor="end" fill="#231f20">0.14</text>
<text x="45.7" y="358.9" class="n" font-size="8.1" textLength="13.82" lengthAdjust="spacingAndGlyphs" text-anchor="end" fill="#231f20">0.21</text>
<text x="45.7" y="346.5" class="n" font-size="8.1" textLength="13.82" lengthAdjust="spacingAndGlyphs" text-anchor="end" fill="#231f20">0.28</text>
<text x="45.7" y="334.1" class="n" font-size="8.1" textLength="13.82" lengthAdjust="spacingAndGlyphs" text-anchor="end" fill="#231f20">0.35</text>
<text x="62.4" y="416.9" class="n" font-size="8.1" textLength="3.95" lengthAdjust="spacingAndGlyphs" text-anchor="middle" fill="#231f20">0</text>
<text x="74.76" y="416.9" class="n" font-size="8.1" textLength="3.95" lengthAdjust="spacingAndGlyphs" text-anchor="middle" fill="#231f20">2</text>
<text x="87.12" y="416.9" class="n" font-size="8.1" textLength="3.95" lengthAdjust="spacingAndGlyphs" text-anchor="middle" fill="#231f20">4</text>
<text x="99.48" y="416.9" class="n" font-size="8.1" textLength="3.95" lengthAdjust="spacingAndGlyphs" text-anchor="middle" fill="#231f20">6</text>
<text x="111.84" y="416.9" class="n" font-size="8.1" textLength="3.95" lengthAdjust="spacingAndGlyphs" text-anchor="middle" fill="#231f20">8</text>
<text x="124.2" y="416.9" class="n" font-size="8.1" textLength="7.9" lengthAdjust="spacingAndGlyphs" text-anchor="middle" fill="#231f20">10</text>
<text x="136.56" y="416.9" class="n" font-size="8.1" textLength="7.9" lengthAdjust="spacingAndGlyphs" text-anchor="middle" fill="#231f20">12</text>
<text x="148.92" y="416.9" class="n" font-size="8.1" textLength="7.9" lengthAdjust="spacingAndGlyphs" text-anchor="middle" fill="#231f20">14</text>
<text x="161.28" y="416.9" class="n" font-size="8.1" textLength="7.9" lengthAdjust="spacingAndGlyphs" text-anchor="middle" fill="#231f20">16</text>
<path d="M61.9 422.2H108.5M115 422.2H161.6" stroke="#231f20" stroke-width="1"/>
<text x="85.3" y="433.2" font-size="8.2" text-anchor="middle" textLength="13.1" lengthAdjust="spacingAndGlyphs" fill="#231f20">ECP</text>
<text x="138.4" y="433.2" font-size="8.2" text-anchor="middle" textLength="27.3" lengthAdjust="spacingAndGlyphs" fill="#231f20">ECP+IL2</text>
<text x="111.8" y="445.8" font-size="10.7" text-anchor="middle" textLength="23.8" lengthAdjust="spacingAndGlyphs" fill="#231f20">Week</text>
<text transform="translate(21.8 396.8) rotate(-90)" x="0" y="0" font-size="10.7" textLength="61.7" lengthAdjust="spacingAndGlyphs" fill="#231f20"><tspan font-size="10.7" dy="0">CD4</tspan><tspan font-size="8" dy="-3.6">+</tspan><tspan font-size="10.7" dy="3.6"> T</tspan><tspan font-size="8.5" dy="2.2">reg</tspan><tspan font-size="10.7" dy="-2.2">:T</tspan><tspan font-size="8.5" dy="2.2">con</tspan></text>
<polyline points="62.4,387.3 68.58,385.8 74.76,387.8 87.12,385.8 99.48,384.8 111.84,383.4 118.02,379.5 124.2,352.5 136.56,336.2 148.92,344 161.28,356.3" fill="none" stroke="#a12a3d" stroke-width="1.5" stroke-linejoin="round"/>
<circle cx="62.4" cy="387.3" r="2.5" fill="#a12a3d"/><circle cx="68.58" cy="385.8" r="2.5" fill="#a12a3d"/><circle cx="74.76" cy="387.8" r="2.5" fill="#a12a3d"/><circle cx="87.12" cy="385.8" r="2.5" fill="#a12a3d"/><circle cx="99.48" cy="384.8" r="2.5" fill="#a12a3d"/><circle cx="111.84" cy="383.4" r="2.5" fill="#a12a3d"/><circle cx="118.02" cy="379.5" r="2.5" fill="#a12a3d"/><circle cx="124.2" cy="352.5" r="2.5" fill="#a12a3d"/><circle cx="136.56" cy="336.2" r="2.5" fill="#a12a3d"/><circle cx="148.92" cy="344" r="2.5" fill="#a12a3d"/><circle cx="161.28" cy="356.3" r="2.5" fill="#a12a3d"/>
<polyline points="62.4,387.3 68.58,385.5 74.76,386.5 87.12,387.7 99.48,387.3 111.84,385.5 118.02,369.5 124.2,338.6 136.56,342.6 148.92,347.2 161.28,351.1" fill="none" stroke="#63a24a" stroke-width="1.5" stroke-linejoin="round"/>
<circle cx="62.4" cy="387.3" r="2.5" fill="#63a24a"/><circle cx="68.58" cy="385.5" r="2.5" fill="#63a24a"/><circle cx="74.76" cy="386.5" r="2.5" fill="#63a24a"/><circle cx="87.12" cy="387.7" r="2.5" fill="#63a24a"/><circle cx="99.48" cy="387.3" r="2.5" fill="#63a24a"/><circle cx="111.84" cy="385.5" r="2.5" fill="#63a24a"/><circle cx="118.02" cy="369.5" r="2.5" fill="#63a24a"/><circle cx="124.2" cy="338.6" r="2.5" fill="#63a24a"/><circle cx="136.56" cy="342.6" r="2.5" fill="#63a24a"/><circle cx="148.92" cy="347.2" r="2.5" fill="#63a24a"/><circle cx="161.28" cy="351.1" r="2.5" fill="#63a24a"/>
<polyline points="62.4,381.9 68.58,383.6 74.76,383.1 87.12,382 99.48,383.8 111.84,379.3 118.02,354.6 124.2,361.6 136.56,354.6 148.92,356.7 161.28,355.5" fill="none" stroke="#38547f" stroke-width="1.5" stroke-linejoin="round"/>
<circle cx="62.4" cy="381.9" r="2.5" fill="#38547f"/><circle cx="68.58" cy="383.6" r="2.5" fill="#38547f"/><circle cx="74.76" cy="383.1" r="2.5" fill="#38547f"/><circle cx="87.12" cy="382" r="2.5" fill="#38547f"/><circle cx="99.48" cy="383.8" r="2.5" fill="#38547f"/><circle cx="111.84" cy="379.3" r="2.5" fill="#38547f"/><circle cx="118.02" cy="354.6" r="2.5" fill="#38547f"/><circle cx="124.2" cy="361.6" r="2.5" fill="#38547f"/><circle cx="136.56" cy="354.6" r="2.5" fill="#38547f"/><circle cx="148.92" cy="356.7" r="2.5" fill="#38547f"/><circle cx="161.28" cy="355.5" r="2.5" fill="#38547f"/>
<path d="M172.8 337.1H180.8" stroke="#38547f" stroke-width="1.4"/><circle cx="176.8" cy="337.1" r="2.7" fill="#38547f"/>
<text x="184" y="339.3" font-size="8.5" textLength="64.6" lengthAdjust="spacingAndGlyphs" fill="#231f20">Response after ECP</text>
<text x="184" y="349.2" font-size="8.5" textLength="53" lengthAdjust="spacingAndGlyphs" fill="#231f20">alone at week 8</text>
<path d="M172.8 359.5H180.8" stroke="#63a24a" stroke-width="1.4"/><circle cx="176.8" cy="359.5" r="2.7" fill="#63a24a"/>
<text x="184" y="362.3" font-size="8.5" textLength="64.6" lengthAdjust="spacingAndGlyphs" fill="#231f20">Response after ECP</text>
<text x="184" y="372" font-size="8.5" textLength="63.5" lengthAdjust="spacingAndGlyphs" fill="#231f20">plus IL2 at week 16</text>
<path d="M172.8 381.6H180.8" stroke="#a12a3d" stroke-width="1.4"/><circle cx="176.8" cy="381.6" r="2.7" fill="#a12a3d"/>
<text x="184" y="384.3" font-size="8.5" textLength="52.8" lengthAdjust="spacingAndGlyphs" fill="#231f20">Nonresponders</text>
<rect x="0" y="0" width="520" height="1" fill="#111"/>
<rect x="0" y="0" width="1" height="456" fill="#555"/>
<rect x="1" y="1" width="1" height="454" fill="#aaa"/>
<rect x="519" y="0" width="1" height="456" fill="#111"/>
<rect x="0" y="455" width="520" height="1" fill="#555"/>
<rect x="1" y="454" width="518" height="1" fill="#aaa"/>
</svg>
</body></html>
